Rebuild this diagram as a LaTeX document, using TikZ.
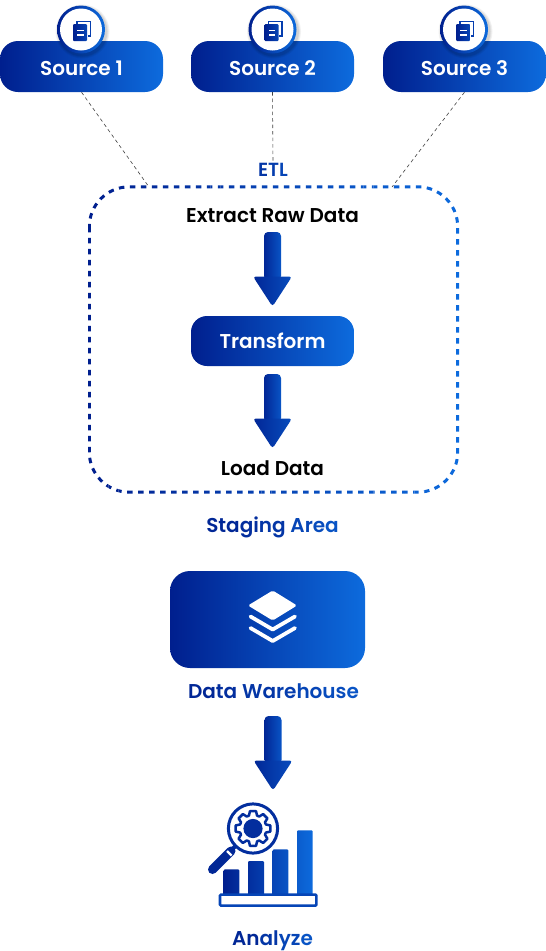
\documentclass[tikz,border=0pt]{standalone}
\usepackage{fontspec}
\newfontfamily\popsb{Poppins SemiBold}
\usetikzlibrary{calc}
\definecolor{c1}{HTML}{001F8E}
\definecolor{c2}{HTML}{0D6BDD}
\colorlet{g0}{c2!0!c1}\colorlet{g1}{c2!10!c1}\colorlet{g2}{c2!20!c1}\colorlet{g3}{c2!30!c1}\colorlet{g4}{c2!40!c1}
\colorlet{g5}{c2!50!c1}\colorlet{g6}{c2!60!c1}\colorlet{g7}{c2!70!c1}\colorlet{g8}{c2!80!c1}\colorlet{g9}{c2!90!c1}\colorlet{g10}{c2!100!c1}
\newcommand{\tc}[2]{\textcolor{g#1}{#2}}
\tikzset{
  gradnode/.style={left color=c1,right color=c2,text=white,rounded corners=#1,inner sep=0pt,font=\popsb\fontsize{20}{22}\selectfont},
  pill/.style={gradnode=18pt,minimum width=163pt,minimum height=51pt},
  sourcepill/.style={pill,text height=18pt,text depth=0pt},
  plain/.style={inner sep=0pt,font=\popsb\fontsize{20}{22}\selectfont},
  thinlink/.style={draw=black!75,line width=0.6pt,dash pattern=on 3.5pt off 3pt},
  stagedash/.style={line width=3pt,dash pattern=on 5.5pt off 5.5pt,rounded corners=40pt},
  dochole/.style={fill=white,draw=none},
}
\newcommand{\garrow}[2]{%
  \shade[left color=g1,right color=g7,rounded corners=4pt]
    ({#1-8.5},#2) rectangle ({#1+8.5},#2+48);
  \shade[left color=g1,right color=g6,rounded corners=3pt]
    ({#1-19.5},#2+44.5) -- ({#1+19.5},#2+44.5) -- (#1,#2+74.5) -- cycle;
}
\newcommand{\docicon}[2]{%
  \begin{scope}[shift={(#1,#2)}]
    \draw[g4,line width=1.6pt] (-4,-8) rectangle (9.5,6.5);
    \fill[white] (-8.5,-5.8) rectangle (6.5,12);
    \shade[left color=c1,right color=g5,rounded corners=1pt] (-8,-5.5) -- (6,-5.5) -- (6,11.5) -- (-8,11.5) -- cycle;
    \fill[dochole] (-4,0.2) rectangle (2.5,1.9);
    \fill[dochole] (-4,4.2) rectangle (2.5,6);
  \end{scope}
}
\newcommand{\badge}[3]{%
  \foreach \k/\o in {27/.05,26/.06,25/.08}{\fill[black,opacity=\o] (#2+1.5,#3+2) circle (\k);}
  \shade[left color=c1,right color=c2] (#2,#3) circle (24);
  \node[circle,fill=white,minimum size=42pt,inner sep=0pt] (#1) at (#2,#3) {};
  \docicon{#2}{#3}
}
\begin{document}
\begin{tikzpicture}[x=1pt,y=-1pt]
\useasboundingbox (0,0) rectangle (546,951);
\node[sourcepill] (s1) at (81.5,66.5) {Source 1};
\node[sourcepill] (s2) at (272.5,66.5) {Source 2};
\node[sourcepill] (s3) at (464.5,66.5) {Source 3};
\badge{b1}{81}{29.5}
\badge{b2}{272.5}{29.5}
\badge{b3}{464}{29.5}
\node[plain,font=\popsb\fontsize{19}{20}\selectfont] (etl) at (273,169.5) {\tc{3}{E}\tc{4}{T}\tc{5}{L}};
\node[inner sep=0pt,minimum width=368pt,minimum height=305pt] (box) at (273.5,339.5) {};
\foreach \i in {0,...,36}{
  \pgfmathsetmacro{\xa}{88+\i*10.2}
  \pgfmathsetmacro{\xb}{\xa+10.2}
  \pgfmathtruncatemacro{\p}{\i*100/36}
  \begin{scope}
    \clip (\xa,180) rectangle (\xb,500);
    \draw[stagedash,draw=c2!\p!c1] (box.north west) rectangle (box.south east);
  \end{scope}
}
\coordinate (e1) at (149,187);
\coordinate (e3) at (392,187);
\draw[thinlink] (s1.south) -- (e1);
\draw[thinlink] (s2.south) -- (etl.north);
\draw[thinlink] (s3.south) -- (e3);
\node[plain] (extract) at (272.5,216) {Extract Raw Data};
\node[pill,minimum height=50pt,rounded corners=16pt] (transform) at (272.5,341) {Transform};
\node[plain] (load) at (272.5,468) {Load Data};
\node[plain] (staging) at (272.5,527) {\tc{1}{Sta}\tc{2}{gi}\tc{3}{ng} \tc{5}{Ar}\tc{6}{e}\tc{7}{a}};
\node[gradnode=20pt,minimum width=195pt,minimum height=97pt] (dw) at (267.5,619.5) {};
\node[plain] (dwl) at (273.5,691.5) {\tc{1}{Da}\tc{2}{ta} \tc{3}{Wa}\tc{4}{re}\tc{5}{ho}\tc{6}{us}\tc{7}{e}};
\node[plain] (an) at (272.5,941) {\tc{1}{An}\tc{3}{al}\tc{5}{yz}\tc{7}{e}};
\garrow{272.5}{232}
\garrow{272.5}{374}
\garrow{273}{716}
\fill[white,rounded corners=1.5pt] (248,605.5) -- (272.7,590.5) -- (297,605.5) -- (272.7,620.5) -- cycle;
\draw[white,line width=3.8pt,line cap=round,line join=round] (250.5,616.5) -- (272.7,629.5) -- (295,616.5);
\draw[white,line width=3.8pt,line cap=round,line join=round] (250.5,628) -- (272.7,641) -- (295,628);
\shade[left color=g0,right color=g2,rounded corners=1pt] (223.7,869.3) rectangle (239.3,895);
\shade[left color=g2,right color=g4,rounded corners=1pt] (248,861) rectangle (264,895);
\shade[left color=g5,right color=g7,rounded corners=1pt] (272.7,849.3) rectangle (288.3,895);
\shade[left color=g8,right color=g10,rounded corners=1pt] (297,830.3) rectangle (312.7,895);
\draw[g5,line width=2.6pt,fill=white,rounded corners=1pt] (220,894.6) rectangle (316.4,905.6);
\draw[g2,line width=4pt] (237,844.5) -- (229,852.5);
\draw[g1,line width=9pt,line cap=round] (231,851) -- (212.5,869.5);
\draw[white,line width=2.4pt] (227,851) -- (231.5,855.5);
\fill[white] (253,828.5) circle (25);
\draw[g2,line width=3pt] (253,828.5) circle (24.6);
\begin{scope}[shift={(253,828.5)}]
  \draw[g2,line width=2.5pt,line join=round]
    (-17.5:13.5) foreach \a in {0,45,...,315}{
      -- ({\a-17.5}:13.5) -- ({\a-10}:17.6) -- ({\a+10}:17.6) -- ({\a+17.5}:13.5)
    } -- cycle;
  \fill[g2] (0,0) circle (9.6);
\end{scope}
\end{tikzpicture}
\end{document}
